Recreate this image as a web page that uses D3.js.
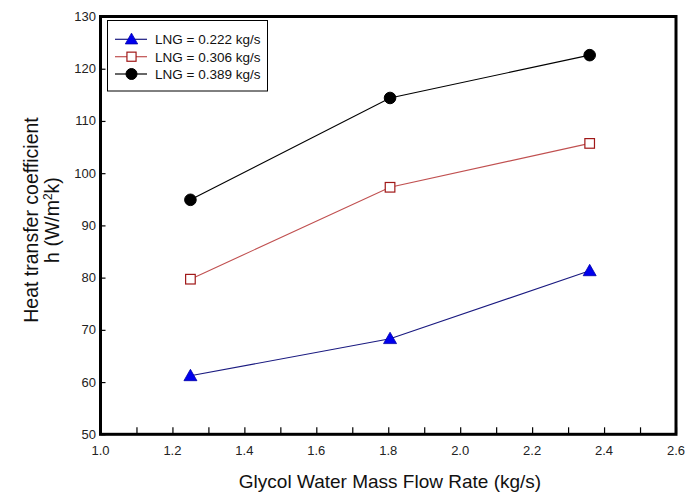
<!DOCTYPE html>
<html>
<head>
<meta charset="utf-8">
<script src="https://cdn.jsdelivr.net/npm/d3@7/dist/d3.min.js"></script>
<style>
  html, body { margin: 0; padding: 0; background: #fff; }
  svg { display: block; font-family: "Liberation Sans", Arial, sans-serif; }
</style>
</head>
<body>
<svg id="chart" width="694" height="504"></svg>
<script>
// ---- data ----
const flowRates = [1.25, 1.805, 2.36];
const seriesNames = ["LNG = 0.222 kg/s", "LNG = 0.306 kg/s", "LNG = 0.389 kg/s"];
const lng0222 = [61.2, 68.3, 81.3];
const lng0306 = [79.7, 97.3, 105.7];
const lng0389 = [94.9, 114.4, 122.6];
const xTicks = [1.0, 1.2, 1.4, 1.6, 1.8, 2.0, 2.2, 2.4, 2.6];
const xMinorTicks = [1.1, 1.3, 1.5, 1.7, 1.9, 2.1, 2.3, 2.5];
const yTicks = [50, 60, 70, 80, 90, 100, 110, 120, 130];
const xTitle = "Glycol Water Mass Flow Rate (kg/s)";
const yTitle1 = "Heat transfer coefficient";

const series = [
  { name: seriesNames[0], values: lng0222, line: "#1a1a80", marker: "triangle", fill: "#0000ee", stroke: "#0000aa" },
  { name: seriesNames[1], values: lng0306, line: "#c05050", marker: "square", fill: "#ffffff", stroke: "#a01818" },
  { name: seriesNames[2], values: lng0389, line: "#000000", marker: "circle", fill: "#000000", stroke: "#000000" }
];

const svg = d3.select("#chart");
const L = 100.5, R = 676, T = 16.5, B = 434.3;
const x = d3.scaleLinear().domain([1.0, 2.6]).range([L, R]);
const y = d3.scaleLinear().domain([50, 130]).range([B, T]);

// ticks (inward)
const gx = svg.append("g").attr("transform", `translate(0,${B})`)
  .call(d3.axisBottom(x).tickValues(xTicks.concat(xMinorTicks)).tickSize(-7).tickFormat(""));
gx.select(".domain").remove();
gx.selectAll("line").attr("stroke", "#000").attr("stroke-width", 1.2);

const gy = svg.append("g").attr("transform", `translate(${L},0)`)
  .call(d3.axisLeft(y).tickValues(yTicks).tickSize(-5).tickFormat(""));
gy.select(".domain").remove();
gy.selectAll("line").attr("stroke", "#000").attr("stroke-width", 1.2);

// tick labels
svg.append("g").selectAll("text").data(xTicks).join("text")
  .attr("x", d => x(d)).attr("y", 455)
  .attr("text-anchor", "middle").attr("font-size", 13).attr("fill", "#222")
  .text(d => d.toFixed(1));
svg.append("g").selectAll("text").data(yTicks).join("text")
  .attr("x", 96).attr("y", d => y(d) + 4.5)
  .attr("text-anchor", "end").attr("font-size", 13).attr("fill", "#222")
  .text(d => d);

// frame
svg.append("rect").attr("x", L).attr("y", T).attr("width", R - L).attr("height", B - T)
  .attr("fill", "none").attr("stroke", "#000").attr("stroke-width", 3);

// marker drawer
function drawMarker(g, type, cx, cy, fill, stroke, scale) {
  const s = scale || 1;
  if (type === "circle") {
    g.append("circle").attr("cx", cx).attr("cy", cy).attr("r", 5.8 * s)
      .attr("fill", fill).attr("stroke", stroke).attr("stroke-width", 1);
  } else if (type === "square") {
    const h = 4.8 * s;
    g.append("rect").attr("x", cx - h).attr("y", cy - h).attr("width", 2 * h).attr("height", 2 * h)
      .attr("fill", fill).attr("stroke", stroke).attr("stroke-width", 1.2);
  } else {
    const h = 6.5 * s;
    g.append("path")
      .attr("d", `M${cx},${cy - h} L${cx + h * 1.0},${cy + h * 0.75} L${cx - h * 1.0},${cy + h * 0.75} Z`)
      .attr("fill", fill).attr("stroke", stroke).attr("stroke-width", 0.8);
  }
}

// lines and markers
const line = d3.line().x((d, i) => x(flowRates[i])).y(d => y(d));
series.forEach(s => {
  svg.append("path").datum(s.values).attr("d", line)
    .attr("fill", "none").attr("stroke", s.line).attr("stroke-width", 1.1);
});
series.forEach(s => {
  const g = svg.append("g");
  s.values.forEach((v, i) => drawMarker(g, s.marker, x(flowRates[i]), y(v), s.fill, s.stroke));
});

// legend
const lg = svg.append("g");
lg.append("rect").attr("x", 107.5).attr("y", 20.5).attr("width", 160).attr("height", 70.5)
  .attr("fill", "#fff").attr("stroke", "#000").attr("stroke-width", 1);
const rowY = [39.3, 56.7, 74];
series.forEach((s, i) => {
  lg.append("line").attr("x1", 115).attr("x2", 147).attr("y1", rowY[i]).attr("y2", rowY[i])
    .attr("stroke", s.line).attr("stroke-width", 1.2);
  drawMarker(lg, s.marker, 131.5, rowY[i], s.fill, s.stroke, 0.95);
  lg.append("text").attr("x", 155).attr("y", rowY[i] + 4.8)
    .attr("font-size", 13.5).attr("fill", "#111").text(s.name);
});

// axis titles
svg.append("text").attr("x", 390).attr("y", 488).attr("text-anchor", "middle")
  .attr("font-size", 19).attr("fill", "#111").text(xTitle);

const yt = svg.append("g").attr("transform", "translate(0,220) rotate(-90)");
yt.append("text").attr("x", 0).attr("y", 38).attr("text-anchor", "middle")
  .attr("font-size", 19.5).attr("fill", "#111").text(yTitle1);
const t2 = yt.append("text").attr("x", 0).attr("y", 59).attr("text-anchor", "middle")
  .attr("font-size", 19.5).attr("fill", "#111");
t2.append("tspan").text("h (W/m");
t2.append("tspan").attr("font-size", 12).attr("dy", -7).text("2");
t2.append("tspan").attr("dy", 7).text("k)");
</script>
</body>
</html>
